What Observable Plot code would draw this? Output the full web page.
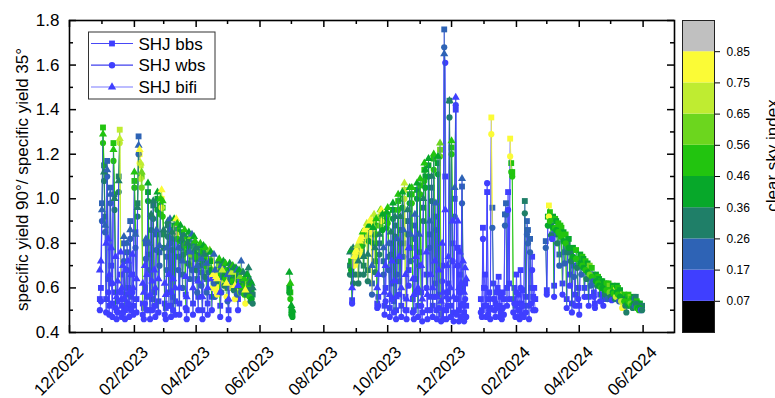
<!DOCTYPE html>
<html>
<head>
<meta charset="utf-8">
<script src="https://cdn.jsdelivr.net/npm/d3@7"></script>
<script src="https://cdn.jsdelivr.net/npm/@observablehq/plot@0.6"></script>
<style>
html, body { margin: 0; padding: 0; background: #fff; overflow: hidden; }
#wrap { position: relative; width: 775px; height: 398px; font-family: "Liberation Sans", Arial, sans-serif; }
#wrap > svg { position: absolute; left: 0; top: 0; }
</style>
</head>
<body>
<div id="wrap"></div>
<script>
// ---------- colour classes (clear sky index) ----------
const csiBreaks = [0.07, 0.17, 0.26, 0.36, 0.46, 0.56, 0.65, 0.75, 0.85];
const csiLabels = ["0.07", "0.17", "0.26", "0.36", "0.46", "0.56", "0.65", "0.75", "0.85"];
const csiColors = ["#000000", "#3f3fff", "#2e63b5", "#1f7f68", "#07a82a", "#22c40f", "#6cd61e", "#bfec31", "#fbfb36", "#c0c0c0"];

// ---------- axis ticks ----------
const xMajorTicks = ["2022-12-01", "2023-02-01", "2023-04-01", "2023-06-01", "2023-08-01", "2023-10-01", "2023-12-01", "2024-02-01", "2024-04-01", "2024-06-01"];
const xMinorTicks = ["2023-01-01", "2023-03-01", "2023-05-01", "2023-07-01", "2023-09-01", "2023-11-01", "2024-01-01", "2024-03-01", "2024-05-01"];
const yMajorTicks = [0.4, 0.6, 0.8, 1.0, 1.2, 1.4, 1.6, 1.8];
const yMinorTicks = [0.5, 0.7, 0.9, 1.1, 1.3, 1.5, 1.7];
const seriesNames = ["SHJ bbs", "SHJ wbs", "SHJ bifi"];

// ---------- period 1: daily values from 2022-12-30 ----------
const p1Start = "2022-12-30";
const p1Csi = [0.10,0.12,0.20,0.50,0.30,0.22,0.12,0.25,0.15,0.10,
0.22,0.14,0.10,0.50,0.28,0.12,0.08,0.10,0.30,0.70,
0.15,0.10,0.12,0.20,0.09,0.11,0.18,0.13,0.10,0.24,
0.12,0.16,0.10,0.48,0.20,0.12,0.30,0.24,0.80,0.70,
0.60,0.12,0.10,0.15,0.22,0.13,0.40,0.18,0.10,0.30,
0.12,0.35,0.14,0.10,0.25,0.45,0.12,0.20,0.50,0.78,
0.55,0.30,0.12,0.10,0.22,0.35,0.15,0.20,0.10,0.30,
0.14,0.40,0.12,0.80,0.50,0.25,0.12,0.45,0.30,0.18,
0.35,0.50,0.15,0.10,0.30,0.45,0.20,0.60,0.25,0.12,
0.40,0.55,0.30,0.18,0.14,0.35,0.50,0.22,0.10,0.45,
0.30,0.55,0.20,0.12,0.35,0.60,0.45,0.15,0.80,0.22,
0.20,0.78,0.82,0.35,0.50,0.12,0.25,0.70,0.40,0.30,
0.55,0.80,0.20,0.10,0.45,0.35,0.65,0.50,0.30,0.76,
0.45,0.25,0.15,0.40,0.60,0.22,0.48,0.35,0.55,0.80,
0.30,0.42,0.34,0.50,0.28,0.40,0.30];
const p1Bbs = [0.55,0.60,0.98,1.32,1.15,0.92,0.55,1.17,0.64,0.52,
1.05,0.70,0.53,1.25,1.02,0.58,0.50,0.54,1.10,1.31,
0.66,0.52,0.55,0.80,0.50,0.57,0.76,0.60,0.51,0.90,
0.56,0.66,0.52,1.08,0.85,0.55,0.98,1.28,1.20,1.15,
1.10,0.53,0.51,0.60,0.80,0.56,1.03,0.75,0.50,0.92,
0.55,0.97,0.58,0.52,0.84,1.00,0.54,0.76,0.97,1.00,
0.96,0.84,0.53,0.51,0.74,0.88,0.58,0.86,0.52,0.82,
0.56,0.88,0.54,0.87,0.86,0.74,0.53,0.85,0.78,0.66,
0.80,0.83,0.57,0.50,0.76,0.82,0.70,0.79,0.74,0.53,
0.80,0.78,0.73,0.64,0.56,0.75,0.77,0.67,0.50,0.76,
0.70,0.74,0.64,0.53,0.72,0.73,0.72,0.56,0.64,0.68,
0.62,0.63,0.61,0.68,0.70,0.52,0.64,0.66,0.69,0.66,
0.68,0.60,0.60,0.50,0.68,0.66,0.64,0.67,0.64,0.59,
0.66,0.62,0.55,0.65,0.62,0.64,0.64,0.63,0.61,0.57,
0.62,0.63,0.64,0.60,0.58,0.59,0.57];
const p1Wbs = [0.50,0.54,0.90,1.25,1.08,0.85,0.49,1.10,0.58,0.48,
0.98,0.62,0.47,1.17,0.95,0.51,0.46,0.49,1.03,1.25,
0.58,0.47,0.49,0.72,0.46,0.51,0.68,0.53,0.47,0.82,
0.50,0.58,0.48,1.05,0.78,0.49,0.92,1.20,1.16,1.09,
1.05,0.48,0.46,0.53,0.73,0.50,0.99,0.68,0.46,0.86,
0.50,0.91,0.52,0.47,0.77,0.95,0.49,0.70,0.93,0.96,
0.92,0.78,0.48,0.46,0.68,0.83,0.52,0.80,0.47,0.77,
0.50,0.84,0.48,0.84,0.82,0.68,0.48,0.81,0.73,0.60,
0.75,0.79,0.51,0.46,0.71,0.78,0.64,0.75,0.68,0.48,
0.76,0.74,0.68,0.58,0.50,0.70,0.73,0.61,0.46,0.72,
0.65,0.70,0.58,0.48,0.67,0.69,0.68,0.50,0.60,0.62,
0.56,0.59,0.57,0.63,0.66,0.47,0.58,0.62,0.65,0.61,
0.64,0.56,0.54,0.46,0.64,0.61,0.60,0.63,0.59,0.55,
0.62,0.57,0.50,0.61,0.58,0.58,0.60,0.58,0.57,0.53,
0.57,0.59,0.59,0.56,0.54,0.55,0.53];
const p1Bifi = [0.68,0.72,0.95,1.29,1.12,0.88,0.80,1.13,0.82,0.66,
1.02,0.78,0.62,1.22,1.00,0.74,0.56,0.63,1.08,1.27,
0.76,0.60,0.70,0.83,0.55,0.68,0.80,0.72,0.58,0.86,
0.66,0.75,0.60,1.12,0.84,0.64,0.96,1.24,1.22,1.16,
1.12,0.62,0.58,0.70,0.82,0.66,1.07,0.80,0.57,0.93,
0.63,0.99,0.68,0.60,0.86,1.03,0.64,0.79,1.00,1.04,
0.99,0.86,0.62,0.57,0.78,0.90,0.66,0.91,0.58,0.85,
0.64,0.91,0.60,0.91,0.89,0.78,0.60,0.88,0.82,0.72,
0.84,0.86,0.65,0.56,0.80,0.85,0.76,0.83,0.84,0.60,
0.83,0.81,0.78,0.70,0.63,0.79,0.80,0.73,0.56,0.79,
0.75,0.78,0.71,0.60,0.76,0.77,0.76,0.64,0.66,0.75,
0.68,0.65,0.64,0.72,0.73,0.58,0.70,0.68,0.72,0.71,
0.71,0.62,0.66,0.55,0.71,0.70,0.67,0.70,0.69,0.61,
0.69,0.68,0.61,0.68,0.65,0.72,0.67,0.67,0.64,0.59,
0.66,0.66,0.69,0.63,0.63,0.62,0.60];

// ---------- period 2: from 2023-06-29 ----------
const p2Start = "2023-06-29";
const p2Csi  = [0.45, 0.50, 0.40, 0.42];
const p2Bbs  = [0.60, 0.58, 0.50, 0.49];
const p2Wbs  = [0.58, 0.55, 0.48, 0.47];
const p2Bifi = [0.67, 0.62, 0.52, 0.50];

// ---------- period 3: from 2023-08-26 ----------
const p3Start = "2023-08-26";
const p3Csi = [0.30,0.40,0.12,0.32,0.80,0.80,0.82,0.70,0.30,0.80,
0.82,0.78,0.55,0.35,0.80,0.84,0.72,0.28,0.45,0.80,
0.76,0.20,0.40,0.66,0.30,0.50,0.12,0.14,0.35,0.60,
0.78,0.45,0.22,0.10,0.12,0.40,0.48,0.20,0.10,0.30,
0.15,0.45,0.12,0.35,0.10,0.18,0.50,0.14,0.28,0.10,
0.40,0.22,0.68,0.12,0.10,0.30,0.15,0.45,0.20,0.50,
0.12,0.10,0.25,0.14,0.40,0.10,0.18,0.48,0.12,0.10,
0.30,0.50,0.40,0.15,0.10,0.45,0.20,0.12,0.35,0.10,
0.55,0.14,0.25,0.10,0.40,0.12,0.62,0.10,0.15,0.10,
0.22,0.14,0.10,0.12,0.12,0.30,0.10,0.50,0.15,0.10,
0.20,0.12,0.10,0.14,0.10,0.12,0.10,0.22,0.12,0.10,
0.14,0.10];
const p3Bbs = [0.70,0.72,0.545,0.66,0.72,0.73,0.75,0.76,0.66,0.78,
0.80,0.81,0.82,0.70,0.84,0.85,0.86,0.68,0.85,0.88,
0.89,0.62,0.84,0.90,0.72,0.88,0.53,0.56,0.80,0.92,
0.93,0.90,0.72,0.52,0.60,0.91,0.93,0.74,0.51,0.80,
0.62,0.95,0.54,0.88,0.50,0.72,0.99,0.63,0.86,0.52,
1.00,0.80,1.04,0.56,0.50,0.90,0.68,1.02,0.78,1.02,
0.55,0.50,0.88,0.64,1.04,0.52,0.76,1.06,0.58,0.49,
0.96,1.13,1.10,0.66,0.50,1.15,0.84,0.56,1.05,0.52,
1.18,0.62,0.92,0.50,1.16,0.57,1.22,0.48,0.70,0.50,
1.76,1.10,0.50,0.58,0.62,1.44,0.52,1.23,0.80,0.49,
1.00,1.40,0.55,0.78,0.50,0.66,0.52,1.055,0.60,0.49,
0.62,0.52];
const p3Wbs = [0.66,0.68,0.53,0.62,0.70,0.71,0.72,0.73,0.62,0.75,
0.77,0.78,0.79,0.66,0.81,0.82,0.83,0.63,0.81,0.85,
0.86,0.57,0.80,0.87,0.67,0.84,0.51,0.52,0.75,0.88,
0.90,0.86,0.66,0.48,0.54,0.87,0.89,0.68,0.47,0.75,
0.55,0.91,0.49,0.83,0.46,0.66,0.95,0.57,0.80,0.47,
0.96,0.74,1.00,0.50,0.46,0.84,0.61,0.98,0.72,0.98,
0.49,0.46,0.82,0.58,1.00,0.47,0.70,1.02,0.52,0.45,
0.90,1.08,1.05,0.60,0.46,1.10,0.78,0.50,0.99,0.47,
1.13,0.56,0.86,0.46,1.11,0.51,1.19,0.45,0.63,0.46,
1.68,1.61,0.46,0.52,0.55,1.365,0.47,1.20,0.72,0.45,
0.92,1.42,0.48,0.70,0.45,0.58,0.47,0.98,0.53,0.45,
0.55,0.47];
const p3Bifi = [0.76,0.77,0.60,0.78,0.74,0.76,0.77,0.79,0.72,0.81,
0.82,0.83,0.85,0.74,0.86,0.87,0.89,0.75,0.88,0.90,
0.91,0.70,0.87,0.93,0.78,0.91,0.60,0.66,0.84,0.95,
0.95,0.93,0.78,0.58,0.70,0.94,0.96,0.80,0.57,0.85,
0.72,0.98,0.63,0.92,0.56,0.82,1.02,0.74,0.92,0.60,
1.03,0.86,1.07,0.66,0.55,0.95,0.78,1.05,0.84,1.05,
0.64,0.57,0.93,0.74,1.07,0.60,0.84,1.09,0.70,0.55,
1.00,1.16,1.13,0.76,0.57,1.18,0.90,0.66,1.10,0.60,
1.20,0.72,0.98,0.56,1.19,0.68,1.25,0.54,0.80,0.58,
1.65,0.95,0.56,0.70,0.74,1.44,0.60,1.26,0.90,0.56,
1.05,1.455,0.70,0.90,0.60,0.76,0.62,1.09,0.72,0.58,
0.69,0.64];

// ---------- period 4a: from 2023-12-29 (no bifi) ----------
const p4aStart = "2023-12-29";
const p4aCsi = [0.12,0.10,0.15,0.10,0.12,0.10,0.14,0.10,0.12,0.10,
0.82,0.22,0.10,0.12,0.10,0.12,0.10,0.14,0.10,0.12,
0.10,0.12,0.10,0.18,0.20,0.10,0.16,0.12,0.80,0.50,
0.48,0.10,0.12,0.10,0.14,0.10,0.12,0.10,0.15,0.10,
0.12,0.10,0.30,0.10,0.22,0.20,0.10,0.18,0.12,0.14,
0.10,0.12,0.10];
const p4aBbs = [0.55,0.50,0.87,0.60,0.66,0.52,1.03,0.55,0.58,0.51,
1.365,0.96,0.62,0.55,0.53,0.58,0.60,0.65,0.52,0.56,
0.51,0.58,0.55,0.93,0.98,0.60,1.03,0.62,1.27,1.16,
1.12,0.55,0.60,0.52,0.66,0.53,0.57,0.50,0.68,0.53,
0.59,0.52,0.99,0.56,0.90,0.86,0.52,0.82,0.60,0.74,
0.56,0.60,0.55];
const p4aWbs = [0.49,0.47,0.82,0.52,0.60,0.47,1.07,0.48,0.50,0.46,
1.29,0.87,0.55,0.50,0.47,0.51,0.52,0.58,0.47,0.49,
0.46,0.51,0.48,0.88,0.93,0.52,0.95,0.55,1.19,1.12,
1.10,0.49,0.53,0.47,0.58,0.47,0.50,0.46,0.60,0.48,
0.52,0.47,0.935,0.49,0.84,0.80,0.46,0.76,0.53,0.68,
0.50,0.55,0.50];

// ---------- period 4b: from 2024-02-29 (no bifi) ----------
const p4bStart = "2024-02-29";
const p4bCsi = [0.22,0.10,0.45,0.80,0.50,0.30,0.12,0.40,0.10,0.55,
0.45,0.30,0.50,0.20,0.48,0.55,0.12,0.40,0.22,0.50,
0.10,0.35,0.45,0.15,0.28,0.10,0.40,0.18,0.12,0.50,
0.30,0.14,0.10,0.45,0.25,0.55,0.40,0.15,0.50,0.30,
0.45,0.12,0.60,0.22,0.48,0.20,0.12,0.10,0.40,0.30,
0.55,0.45,0.15,0.50,0.40,0.12,0.45,0.30,0.50,0.20,
0.48,0.60,0.35,0.12,0.45,0.55,0.30,0.70,0.45,0.50,
0.25,0.40,0.65,0.80,0.78,0.50,0.35,0.30,0.45,0.55,
0.40,0.60,0.50,0.35,0.45,0.25,0.30,0.50,0.45,0.55,
0.40,0.15,0.35];
const p4bBbs = [0.81,0.59,0.92,0.97,0.94,0.88,0.84,0.92,0.61,0.91,
0.90,0.84,0.89,0.75,0.88,0.87,0.62,0.85,0.76,0.84,
0.55,0.80,0.82,0.66,0.76,0.53,0.78,0.70,0.57,0.77,
0.73,0.60,0.52,0.75,0.70,0.74,0.73,0.60,0.72,0.68,
0.71,0.56,0.70,0.65,0.69,0.66,0.58,0.53,0.66,0.64,
0.65,0.64,0.57,0.63,0.63,0.55,0.62,0.60,0.62,0.58,
0.62,0.61,0.59,0.56,0.61,0.60,0.58,0.59,0.61,0.60,
0.57,0.59,0.57,0.54,0.53,0.57,0.55,0.52,0.56,0.57,
0.55,0.56,0.55,0.54,0.56,0.55,0.56,0.54,0.53,0.52,
0.53,0.51,0.52];
const p4bWbs = [0.78,0.57,0.88,0.92,0.90,0.835,0.82,0.87,0.56,0.87,
0.86,0.80,0.85,0.70,0.84,0.83,0.57,0.81,0.71,0.80,
0.51,0.76,0.78,0.61,0.72,0.49,0.74,0.65,0.52,0.73,
0.69,0.55,0.48,0.71,0.66,0.70,0.69,0.56,0.68,0.64,
0.67,0.52,0.66,0.61,0.65,0.63,0.56,0.51,0.63,0.61,
0.62,0.61,0.54,0.60,0.60,0.52,0.59,0.57,0.59,0.55,
0.59,0.58,0.56,0.545,0.58,0.575,0.55,0.56,0.58,0.57,
0.54,0.56,0.54,0.51,0.51,0.54,0.52,0.49,0.53,0.54,
0.52,0.53,0.52,0.51,0.53,0.52,0.53,0.51,0.51,0.50,
0.51,0.50,0.50];

// ---------- build tables ----------
const parse = d3.utcParse("%Y-%m-%d");
const periods = [
  {start: p1Start, csi: p1Csi, bbs: p1Bbs, wbs: p1Wbs, bifi: p1Bifi},
  {start: p2Start, csi: p2Csi, bbs: p2Bbs, wbs: p2Wbs, bifi: p2Bifi},
  {start: p3Start, csi: p3Csi, bbs: p3Bbs, wbs: p3Wbs, bifi: p3Bifi},
  {start: p4aStart, csi: p4aCsi, bbs: p4aBbs, wbs: p4aWbs, bifi: null},
  {start: p4bStart, csi: p4bCsi, bbs: p4bBbs, wbs: p4bWbs, bifi: null}
];
const keys = ["bbs", "wbs", "bifi"];
const points = {bbs: [], wbs: [], bifi: []};
const segs = {bbs: [], wbs: [], bifi: []};
for (const p of periods) {
  const s = parse(p.start);
  for (const k of keys) {
    const vals = p[k];
    if (!vals) continue;
    const n = Math.min(vals.length, p.csi.length);
    for (let i = 0; i < n; i++) {
      const date = d3.utcDay.offset(s, i);
      points[k].push({date, value: vals[i], csi: p.csi[i]});
      if (i + 1 < n) segs[k].push({x1: date, y1: vals[i], x2: d3.utcDay.offset(s, i + 1), y2: vals[i + 1], csi: p.csi[i]});
    }
  }
}
const symbols = {bbs: "square", wbs: "circle", bifi: "triangle"};
const radii = {bbs: 3.3, wbs: 3.1, bifi: 3.0};

const colorScale = {type: "threshold", domain: csiBreaks, range: csiColors};
const fontFamily = "'Liberation Sans', Arial, Helvetica, sans-serif";
const W = 775, H = 398, mL = 69, mR = 101, mT = 20, mB = 66;
const innerW = W - mL - mR, innerH = H - mT - mB;
const fmtX = d3.utcFormat("%m/%Y");

const seriesMarks = [];
for (const k of keys) {
  seriesMarks.push(Plot.link(segs[k], {x1: "x1", y1: "y1", x2: "x2", y2: "y2", stroke: "csi", strokeWidth: 1, strokeOpacity: 0.8}));
  seriesMarks.push(Plot.dot(points[k], {x: "date", y: "value", fill: "csi", symbol: symbols[k], r: radii[k], stroke: null}));
}

const xMaj = xMajorTicks.map(parse), xMin = xMinorTicks.map(parse);

const main = Plot.plot({
  width: W, height: H,
  marginLeft: mL, marginRight: mR, marginTop: mT, marginBottom: mB,
  style: {fontFamily, fontSize: "17px", background: "transparent", overflow: "visible", color: "black"},
  x: {type: "utc", domain: [parse("2022-12-01"), parse("2024-07-01")], axis: null},
  y: {domain: [0.4, 1.8], axis: null},
  color: colorScale,
  marks: [
    ...seriesMarks,
    // inward ticks: bottom / top
    Plot.ruleX(xMaj, {insetTop: innerH - 7, stroke: "black", strokeWidth: 1.5}),
    Plot.ruleX(xMin, {insetTop: innerH - 4, stroke: "black", strokeWidth: 1.5}),
    Plot.ruleX(xMaj, {insetBottom: innerH - 7, stroke: "black", strokeWidth: 1.5}),
    Plot.ruleX(xMin, {insetBottom: innerH - 4, stroke: "black", strokeWidth: 1.5}),
    // inward ticks: left / right
    Plot.ruleY(yMajorTicks, {insetRight: innerW - 7, stroke: "black", strokeWidth: 1.5}),
    Plot.ruleY(yMinorTicks, {insetRight: innerW - 4, stroke: "black", strokeWidth: 1.5}),
    Plot.ruleY(yMajorTicks, {insetLeft: innerW - 7, stroke: "black", strokeWidth: 1.5}),
    Plot.ruleY(yMinorTicks, {insetLeft: innerW - 4, stroke: "black", strokeWidth: 1.5}),
    Plot.frame({stroke: "black", strokeWidth: 1.6}),
    Plot.axisY(yMajorTicks, {tickSize: 0, tickPadding: 10, tickFormat: d3.format(".1f"), label: null, fontSize: 17}),
    Plot.text(xMaj, {x: d => d, frameAnchor: "bottom", text: d => fmtX(d), rotate: -45, textAnchor: "end", lineAnchor: "middle", dx: 11, dy: 17, fontSize: 17}),
    Plot.text(["specific yield 90°/ specific yield 35°"], {frameAnchor: "left", rotate: -90, textAnchor: "middle", lineAnchor: "middle", dx: -47, dy: 3, fontSize: 17})
  ]
});

// ---------- legend ----------
{
  const svg = d3.select(main);
  const g = svg.append("g").attr("text-anchor", "start");
  g.append("rect").attr("x", 88.5).attr("y", 32).attr("width", 126.5).attr("height", 67)
    .attr("fill", "white").attr("stroke", "#333").attr("stroke-width", 1);
  const rows = [
    {name: seriesNames[0], y: 43.5, sym: d3.symbolSquare, line: "#4848f6", size: 34},
    {name: seriesNames[1], y: 65.2, sym: d3.symbolCircle, line: "#4040ee", size: 32},
    {name: seriesNames[2], y: 87, sym: d3.symbolTriangle, line: "#7a7aff", size: 30}
  ];
  for (const r of rows) {
    g.append("line").attr("x1", 91).attr("x2", 133).attr("y1", r.y).attr("y2", r.y)
      .attr("stroke", r.line).attr("stroke-width", 1.2);
    g.append("path").attr("d", d3.symbol(r.sym, r.size)()).attr("transform", `translate(112,${r.y})`)
      .attr("fill", "#3f3fff");
    g.append("text").attr("x", 138.5).attr("y", r.y + 6).attr("font-size", 17)
      .attr("text-anchor", "start")
      .attr("font-family", fontFamily).attr("fill", "black").text(r.name);
  }
}

// ---------- colour bar ----------
const bands = csiColors.map((c, i) => ({
  i,
  rep: i === 0 ? csiBreaks[0] / 2 : i === csiColors.length - 1 ? csiBreaks[csiBreaks.length - 1] + 0.05 : (csiBreaks[i - 1] + csiBreaks[i]) / 2
}));
const bar = Plot.plot({
  width: W, height: H,
  marginLeft: 682, marginRight: W - 714, marginTop: mT, marginBottom: mB,
  style: {fontFamily, fontSize: "12px", background: "transparent", overflow: "visible", color: "black"},
  x: {domain: [0, 1], axis: null},
  y: {domain: [0, csiColors.length], axis: null},
  color: colorScale,
  marks: [
    Plot.rect(bands, {x1: 0, x2: 1, y1: "i", y2: d => d.i + 1, fill: "rep"}),
    Plot.frame({stroke: "#222", strokeWidth: 1}),
    Plot.axisY(d3.range(1, csiColors.length), {anchor: "right", tickSize: 5, tickPadding: 7, tickFormat: i => csiLabels[i - 1], label: null, fontSize: 12}),
    Plot.text(["clear sky index"], {frameAnchor: "right", rotate: -90, textAnchor: "middle", lineAnchor: "middle", dx: 58, dy: -21, fontSize: 17})
  ]
});

document.getElementById("wrap").append(main, bar);
</script>
</body>
</html>
